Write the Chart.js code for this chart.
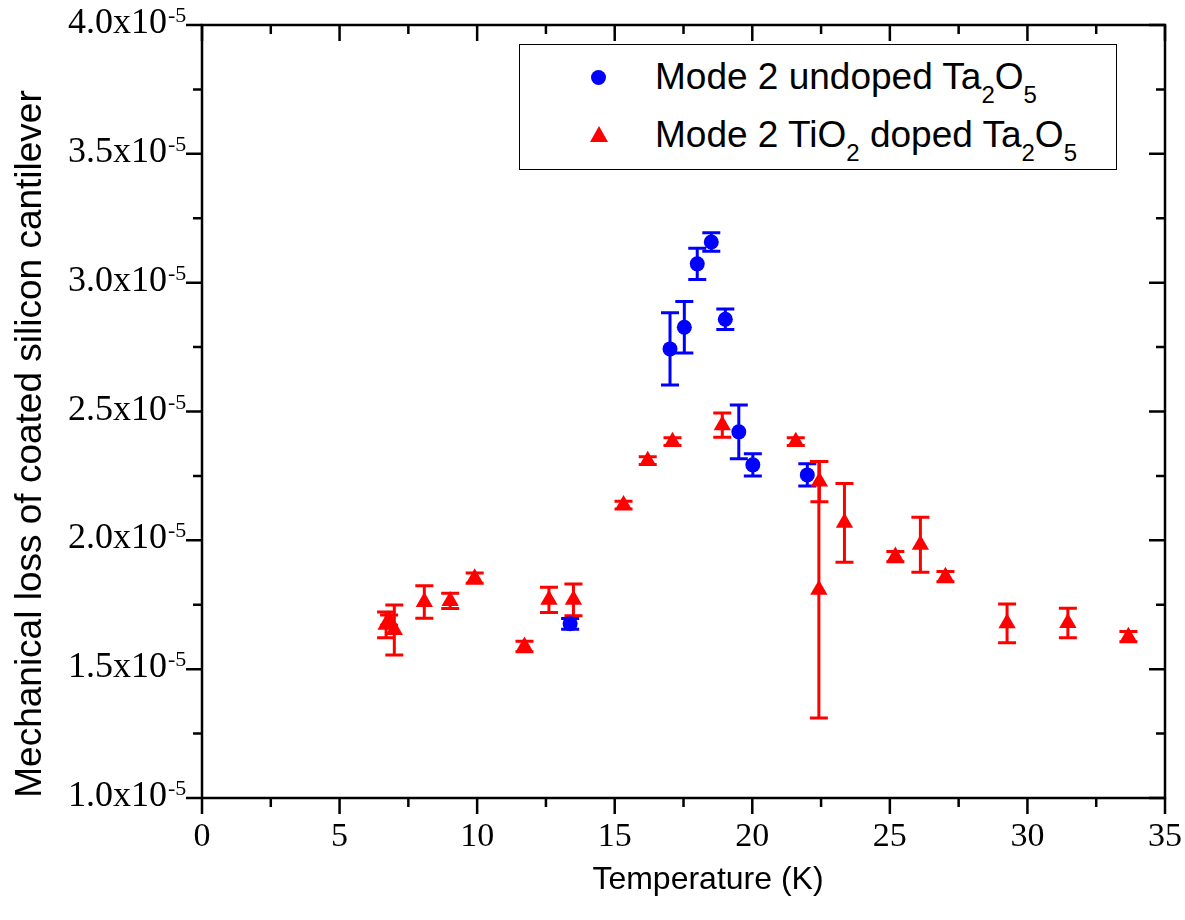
<!DOCTYPE html>
<html>
<head>
<meta charset="utf-8">
<script src="https://cdn.jsdelivr.net/npm/chart.js@4.4.0/dist/chart.umd.min.js"></script>
<style>
body{margin:0;background:#fff;}
#wrap{position:relative;width:1185px;height:920px;}
#legend{position:absolute;left:519px;top:44px;width:596px;height:124px;border:1.5px solid #000;background:#fff;
  font-family:"Liberation Sans",Arial,sans-serif;font-size:37px;line-height:37px;color:#000;}
#legend .row{position:absolute;left:135px;white-space:nowrap;}
#legend .sub{font-size:24px;vertical-align:-14px;line-height:0;}
#legend .dot{position:absolute;width:15px;height:15px;border-radius:50%;background:#0000ff;}
#legend .tri{position:absolute;width:0;height:0;border-left:9px solid transparent;border-right:9px solid transparent;border-bottom:16px solid #ff0000;}
</style>
</head>
<body>
<div id="wrap">
  <canvas id="lossChart" width="1185" height="920"></canvas>
  <div id="legend">
    <div class="dot" style="left:71px;top:25px;"></div>
    <div class="row" style="top:13px;">Mode 2 undoped Ta<span class="sub">2</span>O<span class="sub">5</span></div>
    <div class="tri" style="left:70px;top:81px;"></div>
    <div class="row" style="top:71px;">Mode 2 TiO<span class="sub">2</span> doped Ta<span class="sub">2</span>O<span class="sub">5</span></div>
  </div>
</div>
<script>
// temperature (K) / loss (x10^-5) / error (x10^-5)
var undopedT    = [13.38, 17.01, 17.53, 18.00, 18.51, 19.02, 19.51, 20.02, 22.00];
var undopedLoss = [1.676, 2.743, 2.827, 3.073, 3.158, 2.858, 2.421, 2.293, 2.254];
var undopedErr  = [0.021, 0.140, 0.100, 0.061, 0.036, 0.040, 0.104, 0.043, 0.043];

var dopedT    = [6.69, 6.80, 6.99, 8.08, 9.02, 9.91, 11.72, 12.61, 13.50, 15.32, 16.20, 17.10, 18.91, 21.58, 22.44, 22.42, 23.35, 25.20, 26.11, 27.02, 29.26, 31.47, 33.67];
var dopedLoss = [1.672, 1.690, 1.652, 1.761, 1.765, 1.853, 1.588, 1.769, 1.769, 2.137, 2.309, 2.383, 2.447, 2.383, 2.228, 1.808, 2.068, 1.937, 1.983, 1.859, 1.678, 1.679, 1.626];
var dopedErr  = [0.050, 0.020, 0.097, 0.063, 0.030, 0.020, 0.020, 0.049, 0.062, 0.015, 0.015, 0.015, 0.047, 0.015, 0.078, 0.498, 0.153, 0.020, 0.107, 0.020, 0.075, 0.057, 0.020];

var xTicks = [0, 5, 10, 15, 20, 25, 30, 35];
var yTicks = [1.0, 1.5, 2.0, 2.5, 3.0, 3.5, 4.0];

function toPoints(xs, ys){
    return xs.map((x, i) => ({x: x, y: ys[i]}));
}

var errorBars = {
    id: 'errorBars',
    beforeDatasetsDraw(chart){
        var ctx = chart.ctx;
        var xs = chart.scales.x, ys = chart.scales.y;
        chart.data.datasets.forEach((ds) => {
            ctx.save();
            ctx.strokeStyle = ds.borderColor;
            ctx.lineWidth = 3;
            ds.data.forEach((p, i) => {
                var e = ds.errors[i];
                var px = xs.getPixelForValue(p.x);
                var top = ys.getPixelForValue(p.y + e);
                var bot = ys.getPixelForValue(p.y - e);
                ctx.beginPath();
                ctx.moveTo(px, top); ctx.lineTo(px, bot);
                ctx.moveTo(px - 9, top); ctx.lineTo(px + 9, top);
                ctx.moveTo(px - 9, bot); ctx.lineTo(px + 9, bot);
                ctx.stroke();
            });
            ctx.restore();
        });
    }
};

var frameAndTicks = {
    id: 'frameAndTicks',
    afterDraw(chart){
        var ctx = chart.ctx;
        var a = chart.chartArea;
        var xs = chart.scales.x, ys = chart.scales.y;
        ctx.save();
        ctx.strokeStyle = '#000';
        ctx.lineWidth = 2.5;
        ctx.strokeRect(a.left, a.top, a.right - a.left, a.bottom - a.top);
        ctx.beginPath();
        for(var v = 0; v <= 35; v += 2.5){
            var px = xs.getPixelForValue(v);
            var len = (v % 5 === 0) ? 16 : 9;
            ctx.moveTo(px, a.bottom); ctx.lineTo(px, a.bottom + len);
            ctx.moveTo(px, a.top); ctx.lineTo(px, a.top + len);
        }
        for(var w = 1.0; w <= 4.0001; w += 0.25){
            var py = ys.getPixelForValue(w);
            var len2 = (Math.abs(w * 2 - Math.round(w * 2)) < 1e-6) ? 16 : 9;
            ctx.moveTo(a.left, py); ctx.lineTo(a.left - len2, py);
            ctx.moveTo(a.right, py); ctx.lineTo(a.right - len2, py);
        }
        ctx.stroke();

        // y tick labels with superscript exponent
        ctx.fillStyle = '#000';
        yTicks.forEach(t => {
            var py = ys.getPixelForValue(t);
            ctx.font = '36px "Liberation Serif", "Times New Roman", serif';
            ctx.textAlign = 'right';
            ctx.textBaseline = 'alphabetic';
            ctx.fillText(t.toFixed(1) + 'x10', 167, py + 8);
            ctx.font = '22px "Liberation Serif", "Times New Roman", serif';
            ctx.textAlign = 'left';
            ctx.fillText('-5', 168, py - 3);
        });

        // axis titles
        ctx.font = '32px "Liberation Sans", Arial, sans-serif';
        ctx.textAlign = 'center';
        ctx.textBaseline = 'middle';
        ctx.fillText('Temperature (K)', 708, 880);

        ctx.translate(31, 444);
        ctx.rotate(-Math.PI / 2);
        ctx.font = '37px "Liberation Sans", Arial, sans-serif';
        ctx.fillText('Mechanical loss of coated silicon cantilever', 0, 0);
        ctx.restore();
    }
};

var lossChart = new Chart(document.getElementById('lossChart'), {
    type: 'scatter',
    data: {
        datasets: [{
            label: 'Mode 2 undoped Ta2O5',
            data: toPoints(undopedT, undopedLoss),
            errors: undopedErr,
            pointStyle: 'circle',
            pointRadius: 7.5,
            backgroundColor: '#0000ff',
            borderColor: '#0000ff',
            borderWidth: 0
        }, {
            label: 'Mode 2 TiO2 doped Ta2O5',
            data: toPoints(dopedT, dopedLoss),
            errors: dopedErr,
            pointStyle: 'triangle',
            pointRadius: 10,
            backgroundColor: '#ff0000',
            borderColor: '#ff0000',
            borderWidth: 0
        }]
    },
    options: {
        responsive: false,
        animation: false,
        devicePixelRatio: 1,
        layout: { padding: { left: 10, right: 20, top: 25, bottom: 0 } },
        plugins: { legend: { display: false }, tooltip: { enabled: false } },
        scales: {
            x: {
                type: 'linear', min: 0, max: 35,
                afterBuildTicks: s => { s.ticks = xTicks.map(v => ({value: v})); },
                afterFit: s => { s.height = 122; s.paddingLeft = 0; s.paddingRight = 0; },
                grid: { display: false, drawTicks: false },
                border: { display: false },
                ticks: {
                    color: '#000', padding: 19, maxRotation: 0,
                    font: { family: '"Liberation Serif", "Times New Roman", serif', size: 34 }
                }
            },
            y: {
                type: 'linear', min: 1.0, max: 4.0,
                afterBuildTicks: s => { s.ticks = yTicks.map(v => ({value: v})); },
                afterFit: s => { s.width = 192; s.paddingTop = 0; s.paddingBottom = 0; },
                grid: { display: false, drawTicks: false },
                border: { display: false },
                ticks: { display: false }
            }
        }
    },
    plugins: [errorBars, frameAndTicks]
});
</script>
</body>
</html>
